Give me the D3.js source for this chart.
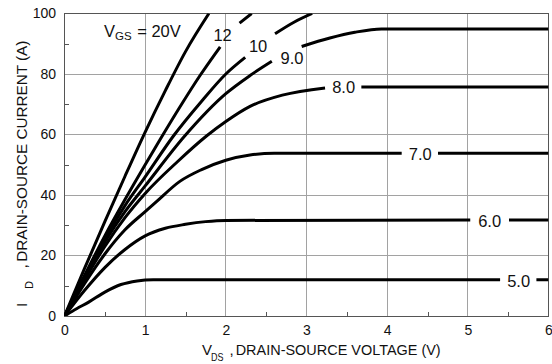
<!DOCTYPE html>
<html>
<head>
<meta charset="utf-8">
<script src="https://cdn.jsdelivr.net/npm/d3@7"></script>
<style>
  html, body { margin: 0; padding: 0; background: #fff; }
  svg { display: block; font-family: "Liberation Sans", Arial, Helvetica, sans-serif; }
</style>
</head>
<body>
<svg id="chart" width="552" height="364"></svg>
<script>
// Output characteristics: drain current I_D (A) against drain-source voltage V_DS (V),
// one curve per gate-source voltage. A null entry breaks a curve where its label sits.
const vgs20 = [[0,0],[0.25,15.8],[0.5,31.2],[0.75,46.2],[1,60.8],[1.25,74.5],[1.5,87.4],[1.79,100]];
const vgs12 = [[0,0],[0.25,13.5],[0.5,26.5],[0.75,38.5],[1,50],[1.2,59],[1.44,69.5],[1.68,79.5],[1.93,89],
               null, [2.17,96.8],[2.32,100]];
const vgs10 = [[0,0],[0.25,13],[0.5,25.5],[0.75,36.5],[1,46],[1.35,59.5],[1.7,71],[2,80],[2.24,85.5],
               null, [2.61,93.3],[2.85,97.2],[3.07,100]];
const vgs9  = [[0,0],[0.25,12.5],[0.5,24.5],[0.75,34.5],[1,43],[1.49,59.5],[2,73.5],[2.3,79.5],[2.57,84.2],
               null, [2.94,89.1],[3.29,91.9],[3.6,93.8],[3.93,94.9],[6,94.9]];
const vgs8  = [[0,0],[0.25,12],[0.5,23],[0.75,32.5],[1,40.5],[1.4,51],[1.76,59.5],[2,64.3],[2.3,69.3],[2.7,73],[3.23,75.4],
               null, [3.68,75.7],[6,75.7]];
const vgs7  = [[0,0],[0.25,10.8],[0.5,20.5],[0.75,28.5],[1,34.5],[1.14,37.8],[1.43,44.5],[1.7,48.4],[2,51.5],[2.3,53.2],[2.6,53.8],[4.18,53.8],
               null, [4.63,53.8],[6,53.8]];
const vgs6  = [[0,0],[0.25,8.5],[0.5,16],[0.75,22],[1,26.5],[1.25,29],[1.5,30.3],[1.75,31.2],[2,31.6],[5.03,31.7],
               null, [5.51,31.7],[6,31.7]];
const vgs5  = [[0,0],[0.15,2.4],[0.3,4.6],[0.5,7.9],[0.7,10.4],[0.9,11.6],[1.1,12],[5.4,12],
               null, [5.85,12],[6,12]];

const curves = [vgs20, vgs12, vgs10, vgs9, vgs8, vgs7, vgs6, vgs5];

// Gate-voltage labels placed in the breaks of their curves
const curveLabels = ["12", "10", "9.0", "8.0", "7.0", "6.0", "5.0"];
const labelVds    = [1.96, 2.40, 2.82, 3.46, 4.41, 5.27, 5.63];
const labelId     = [93.0, 89.2, 85.3, 75.6, 53.6, 31.5, 11.6];

const xTicks = [0, 1, 2, 3, 4, 5, 6];
const yTicks = [0, 20, 40, 60, 80, 100];
const xMinor = [0.5, 1.5, 2.5, 3.5, 4.5, 5.5];
const yMinor = [10, 30, 50, 70, 90];

const svg = d3.select("#chart");
const x = d3.scaleLinear().domain([0, 6]).range([64.5, 548.5]);
const y = d3.scaleLinear().domain([0, 100]).range([316, 13.5]);

// grid
const grid = svg.append("g").attr("shape-rendering", "crispEdges");
grid.selectAll("line.gx").data(xTicks.slice(1, -1)).join("line")
  .attr("x1", d => x(d)).attr("x2", d => x(d))
  .attr("y1", y(0)).attr("y2", y(100))
  .attr("stroke", "#a2a2a2").attr("stroke-width", 1);
grid.selectAll("line.gy").data(yTicks.slice(1, -1)).join("line")
  .attr("x1", x(0)).attr("x2", x(6))
  .attr("y1", d => y(d)).attr("y2", d => y(d))
  .attr("stroke", "#a2a2a2").attr("stroke-width", 1);

// minor ticks on the bottom and left edges, pointing inward
svg.append("g").attr("transform", `translate(0,${y(0)})`)
  .call(d3.axisBottom(x).tickValues(xMinor).tickSize(-4).tickFormat(""))
  .call(g => g.select(".domain").remove())
  .call(g => g.selectAll("line").attr("stroke", "#555").attr("shape-rendering", "crispEdges"));
svg.append("g").attr("transform", `translate(${x(0)},0)`)
  .call(d3.axisLeft(y).tickValues(yMinor).tickSize(-4).tickFormat(""))
  .call(g => g.select(".domain").remove())
  .call(g => g.selectAll("line").attr("stroke", "#555").attr("shape-rendering", "crispEdges"));

// frame
svg.append("rect")
  .attr("x", x(0)).attr("y", y(100))
  .attr("width", x(6) - x(0)).attr("height", y(0) - y(100))
  .attr("fill", "none").attr("stroke", "#555").attr("stroke-width", 1)
  .attr("shape-rendering", "crispEdges");

// tick labels
svg.append("g").attr("transform", `translate(0,${y(0)})`)
  .call(d3.axisBottom(x).tickValues(xTicks).tickSize(0).tickPadding(9).tickFormat(d3.format("d")))
  .call(g => g.select(".domain").remove())
  .call(g => g.selectAll("text").attr("font-size", 14).attr("fill", "#111")
    .attr("font-family", "Liberation Sans, Arial, sans-serif"));
svg.append("g").attr("transform", `translate(${x(0)},0)`)
  .call(d3.axisLeft(y).tickValues(yTicks).tickSize(0).tickPadding(8.5).tickFormat(d3.format("d")))
  .call(g => g.select(".domain").remove())
  .call(g => g.selectAll("text").attr("font-size", 14).attr("fill", "#111")
    .attr("font-family", "Liberation Sans, Arial, sans-serif"));

// curves, clipped to the plot area
svg.append("clipPath").attr("id", "plot-clip")
  .append("rect")
  .attr("x", x(0)).attr("y", y(100))
  .attr("width", x(6) - x(0)).attr("height", y(0) - y(100));

const line = d3.line()
  .defined(d => d !== null)
  .x(d => x(d[0]))
  .y(d => y(d[1]))
  .curve(d3.curveMonotoneX);

svg.append("g").attr("clip-path", "url(#plot-clip)")
  .selectAll("path").data(curves).join("path")
  .attr("d", line)
  .attr("fill", "none")
  .attr("stroke", "#000")
  .attr("stroke-width", 3)
  .attr("stroke-linejoin", "round");

// gate-voltage labels
svg.append("g").selectAll("text").data(curveLabels).join("text")
  .attr("x", (d, i) => x(labelVds[i]))
  .attr("y", (d, i) => y(labelId[i]))
  .attr("dy", "0.36em")
  .attr("text-anchor", "middle")
  .attr("font-size", 16.5)
  .attr("fill", "#111")
  .text(d => d);

// V_GS = 20V
const vgsLabel = svg.append("text").attr("x", 104).attr("y", 36.5)
  .attr("font-size", 16.5).attr("fill", "#111");
vgsLabel.append("tspan").text("V");
vgsLabel.append("tspan").attr("font-size", 11.5).attr("dy", 3.5).text("GS");
vgsLabel.append("tspan").attr("dy", -3.5).attr("dx", 1).text(" = 20V");

// x-axis title
svg.append("text").attr("x", 202).attr("y", 354.5).attr("font-size", 15).attr("fill", "#111").text("V");
svg.append("text").attr("x", 211).attr("y", 361).attr("font-size", 11).attr("fill", "#111")
  .attr("textLength", 12.5).attr("lengthAdjust", "spacingAndGlyphs").text("DS");
svg.append("text").attr("x", 229.5).attr("y", 354.5).attr("font-size", 15).attr("fill", "#111").text(",");
svg.append("text").attr("x", 235.7).attr("y", 354.5).attr("font-size", 15).attr("fill", "#111")
  .attr("textLength", 205).attr("lengthAdjust", "spacingAndGlyphs")
  .text("DRAIN-SOURCE VOLTAGE (V)");

// y-axis title, reading upward
const yTitle = svg.append("g").attr("transform", "translate(26.7,0) rotate(-90)");
yTitle.append("text").attr("x", -307).attr("y", 0).attr("font-size", 15.5).attr("fill", "#111").text("I");
yTitle.append("text").attr("x", -289).attr("y", 6).attr("font-size", 11).attr("fill", "#111").text("D");
yTitle.append("text").attr("x", -268.5).attr("y", 0).attr("font-size", 15.5).attr("fill", "#111").text(",");
yTitle.append("text").attr("x", -261.7).attr("y", 0).attr("font-size", 15.5).attr("fill", "#111")
  .attr("textLength", 221).attr("lengthAdjust", "spacingAndGlyphs")
  .text("DRAIN-SOURCE CURRENT (A)");
</script>
</body>
</html>
